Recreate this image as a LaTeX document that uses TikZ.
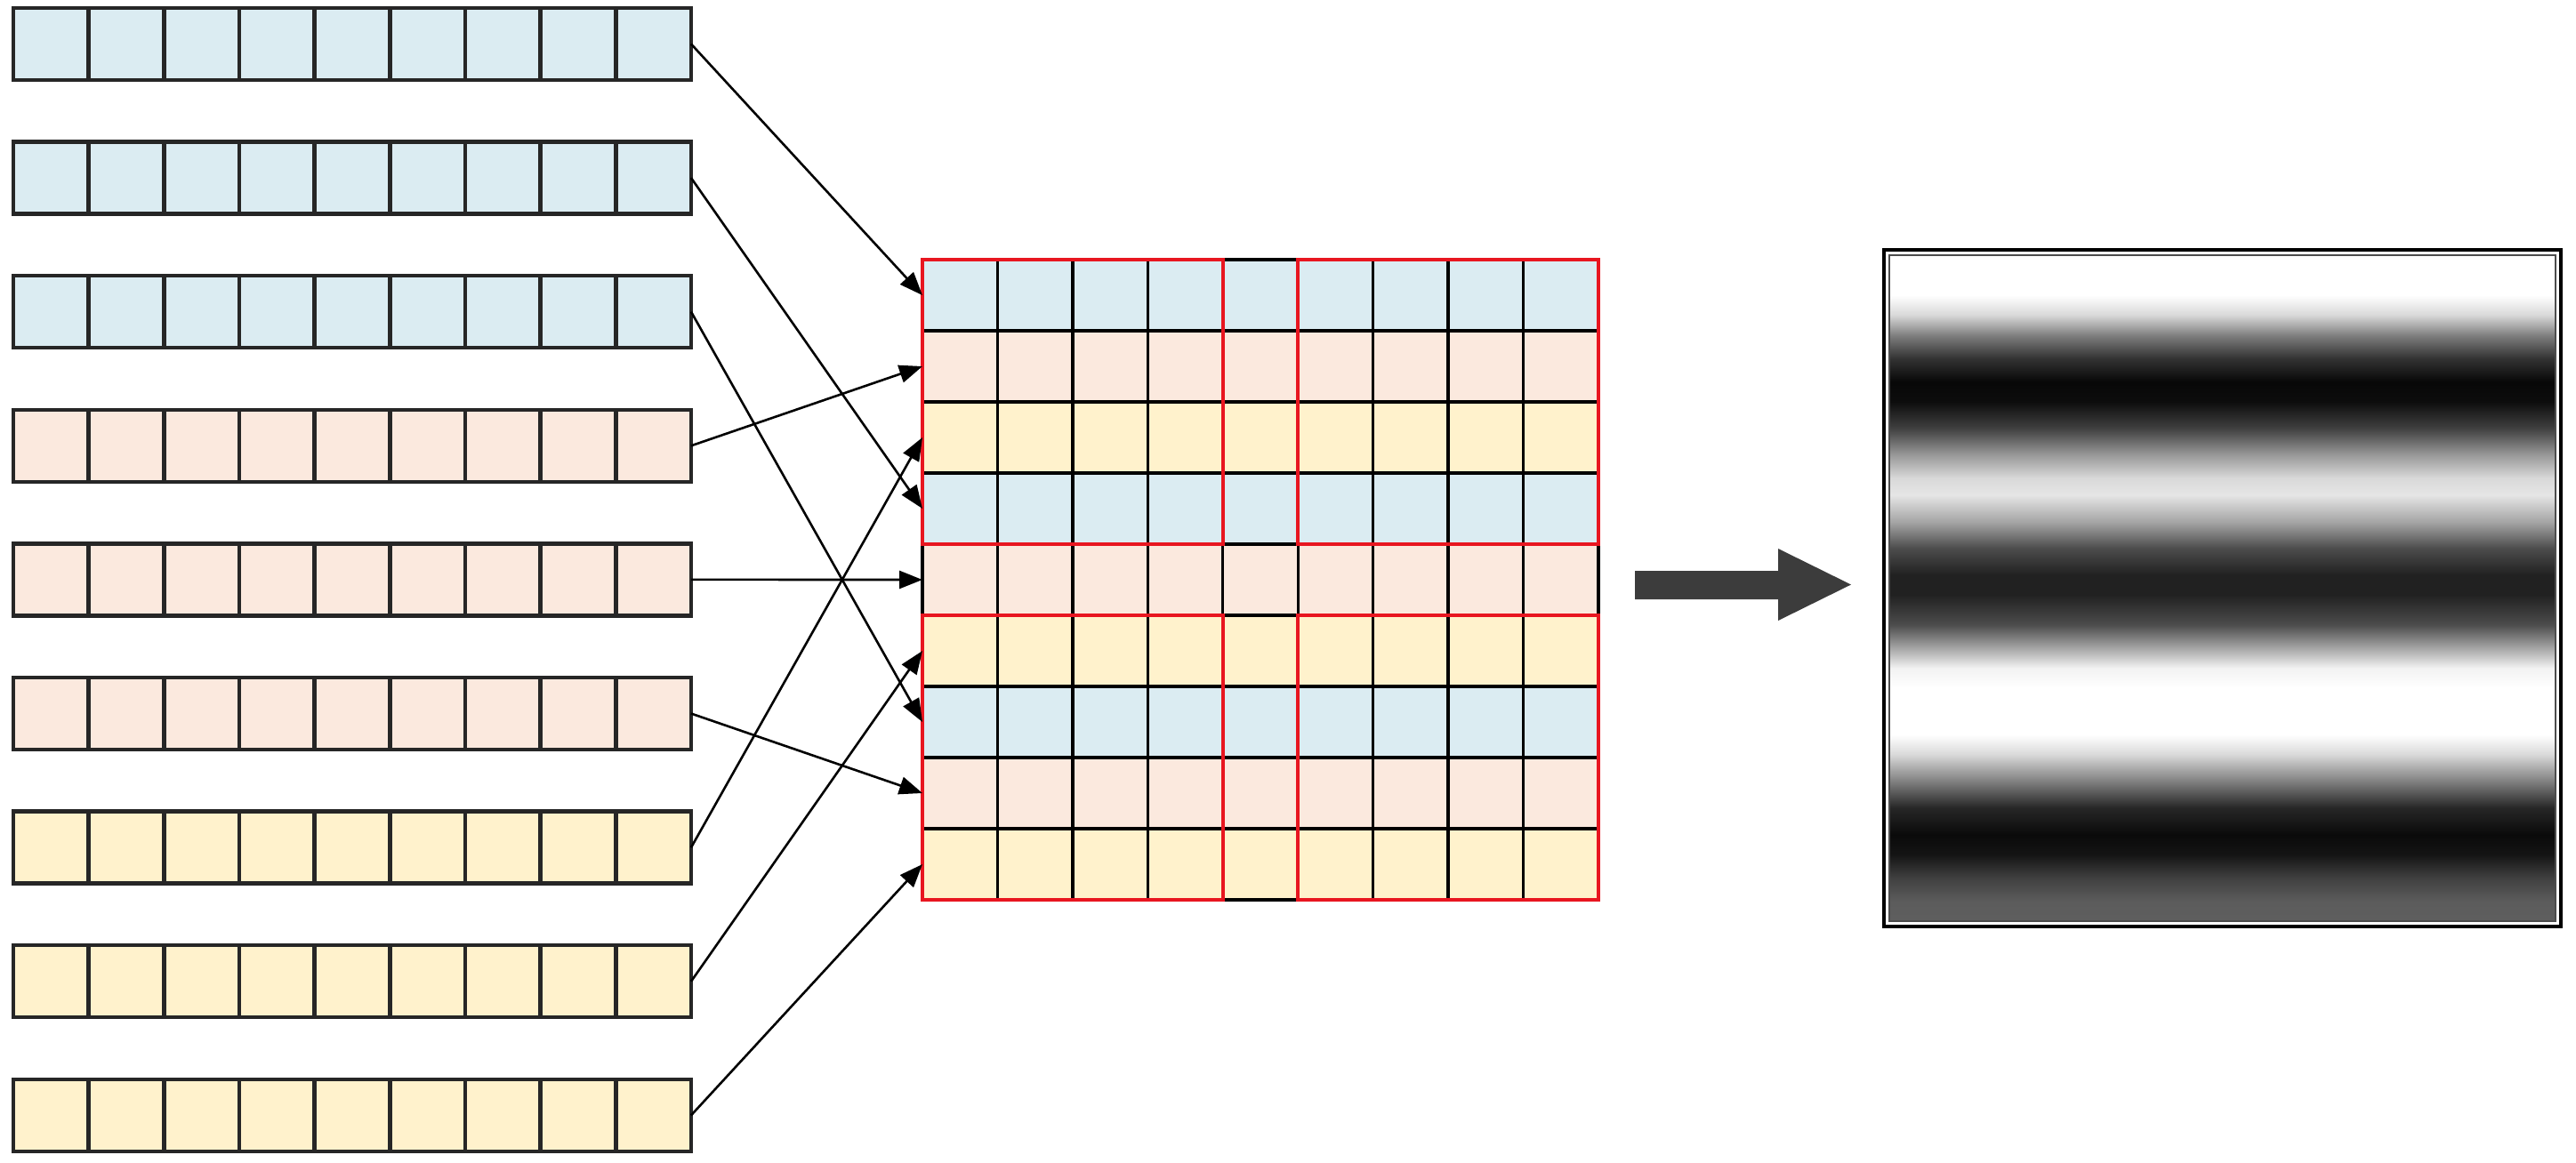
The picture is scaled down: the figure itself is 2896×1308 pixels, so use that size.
\documentclass[tikz,border=0pt]{standalone}
\usetikzlibrary{arrows.meta}
\definecolor{cblue}{RGB}{219,236,242}
\definecolor{cpeach}{RGB}{251,233,222}
\definecolor{cyell}{RGB}{255,242,204}
\definecolor{bigarr}{RGB}{60,60,60}
\definecolor{gridred}{RGB}{232,22,32}
\pgfdeclareverticalshading{bands}{100bp}{
 color(0bp)=(black!63); color(25bp)=(black!63); color(26.5bp)=(black!64);
 color(28.25bp)=(black!75); color(30bp)=(black!92); color(31.5bp)=(black!96);
 color(33.5bp)=(black!85); color(35.5bp)=(black!50); color(37.5bp)=(black!15);
 color(39bp)=(white); color(42.5bp)=(white); color(44bp)=(black!5);
 color(45.5bp)=(black!35); color(47.25bp)=(black!70); color(49.5bp)=(black!87);
 color(51bp)=(black!87); color(53bp)=(black!70); color(55bp)=(black!35);
 color(57bp)=(black!10); color(58.25bp)=(black!15); color(60bp)=(black!40);
 color(62bp)=(black!75); color(64bp)=(black!95); color(65.5bp)=(black!97);
 color(67.25bp)=(black!80); color(69bp)=(black!50); color(70.5bp)=(black!15);
 color(72bp)=(white); color(75bp)=(white); color(100bp)=(white)}
\tikzset{
  rowbox/.style={draw=black!85, line width=1.1pt, minimum width=190.5pt, minimum height=20.25pt, inner sep=0pt, outer sep=0pt},
  rowcell/.style={draw=black!85, line width=1.1pt},
  gridrow/.style={draw=black, line width=0.85pt, minimum width=190pt, minimum height=20pt, inner sep=0pt, outer sep=0pt},
  gridcell/.style={draw=black, line width=0.85pt},
  redbox/.style={draw=gridred, line width=1.1pt},
  conn/.style={draw=black, line width=0.65pt, -{Triangle[length=6.5pt,width=5pt]}},
  imgframe/.style={draw=black, line width=1pt, minimum size=190.25pt, inner sep=0pt, outer sep=0pt}
}
\begin{document}
\begin{tikzpicture}[x=0.25pt, y=-0.25pt]
\useasboundingbox (0,0) rectangle (2896,1308);
% left rows
\foreach \i/\c in {1/cblue,2/cblue,3/cblue,4/cpeach,5/cpeach,6/cpeach,7/cyell,8/cyell,9/cyell}{
  \pgfmathsetmacro\yc{49.5+150.6*(\i-1)}
  \node[rowbox, fill=\c] (L\i) at (396,\yc) {};
  \foreach \k in {1,...,8}{
    \draw[rowcell] ({15+\k*84.667},{\yc-40.5}) -- ({15+\k*84.667},{\yc+40.5});
  }
}
% central grid rows
\foreach \j/\c in {1/cblue,2/cpeach,3/cyell,4/cblue,5/cpeach,6/cyell,7/cblue,8/cpeach,9/cyell}{
  \pgfmathsetmacro\yc{332+80*(\j-1)}
  \node[gridrow, fill=\c] (G\j) at (1417,\yc) {};
}
\foreach \k in {1,...,8}{
  \draw[gridcell] ({1037+\k*84.444},292) -- ({1037+\k*84.444},1012);
}
% red blocks
\draw[redbox] (1037,292) rectangle (1374.8,612);
\draw[redbox] (1459.2,292) rectangle (1797,612);
\draw[redbox] (1037,692) rectangle (1374.8,1012);
\draw[redbox] (1459.2,692) rectangle (1797,1012);
% connectors
\draw[conn] (L1.east) -- (G1.west);
\draw[conn] (L2.east) -- (G4.west);
\draw[conn] (L3.east) -- (G7.west);
\draw[conn] (L4.east) -- (G2.west);
\draw[conn] (L5.east) -- (G5.west);
\draw[conn] (L6.east) -- (G8.west);
\draw[conn] (L7.east) -- (G3.west);
\draw[conn] (L8.east) -- (G6.west);
\draw[conn] (L9.east) -- (G9.west);
% big arrow
\fill[bigarr] (1838,642) -- (1999,642) -- (1999,617) -- (2081,657.5) -- (1999,698) -- (1999,674) -- (1838,674) -- cycle;
% right image
\shade[shading=bands] (2124,287) rectangle (2873,1036);
\draw[black!70, line width=0.3pt] (2124,287) rectangle (2873,1036);
\node[imgframe] (img) at (2498.5,661.5) {};
\end{tikzpicture}
\end{document}
